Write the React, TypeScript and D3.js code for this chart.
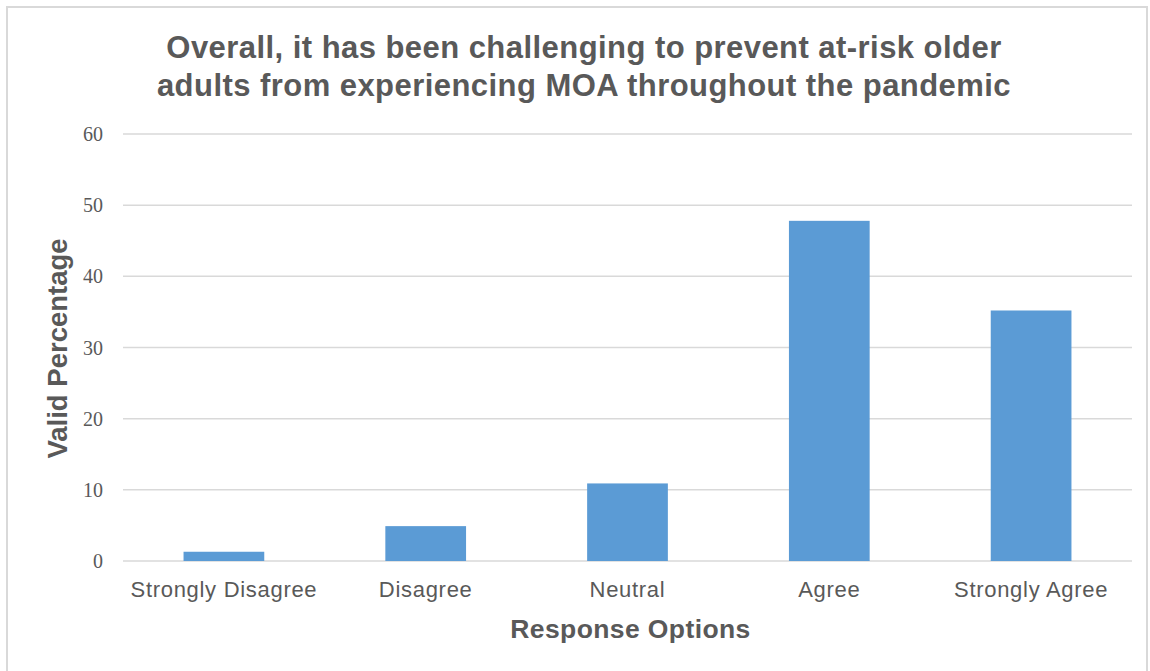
import React from "react";
import * as d3 from "d3";

const categories = ["Strongly Disagree", "Disagree", "Neutral", "Agree", "Strongly Agree"];
const validPercentages = [1.3, 4.9, 10.9, 47.8, 35.2];
const yTicks = [0, 10, 20, 30, 40, 50, 60];
const titleLines = [
  "Overall, it has been challenging to prevent at-risk older",
  "adults from experiencing MOA throughout the pandemic",
];
const xAxisTitle = "Response Options";
const yAxisTitle = "Valid Percentage";

const W = 1150;
const H = 671;
const plot = { left: 123, right: 1132, top: 134, bottom: 561 };
const textColor = "#595959";
const gridColor = "#D9D9D9";
const barColor = "#5B9BD5";
const sans = "Arial, 'Liberation Sans', Helvetica, sans-serif";
const serif = "'Times New Roman', 'Liberation Serif', serif";

export default function App() {
  const x = d3
    .scaleBand<string>()
    .domain(categories)
    .range([plot.left, plot.right])
    .paddingInner(0.6)
    .paddingOuter(0.3);

  const y = d3.scaleLinear().domain([0, 60]).range([plot.bottom, plot.top]);

  const titleCenter = 584;
  const plotCenterX = (plot.left + plot.right) / 2;
  const plotCenterY = (plot.top + plot.bottom) / 2;

  return (
    <svg
      width={W}
      height={H}
      style={{ position: "absolute", left: 0, top: 0, display: "block", background: "#fff" }}
    >
      {/* chart frame */}
      <rect x={7} y={7} width={1140} height={700} fill="#fff" stroke={gridColor} strokeWidth={2} />

      {/* title */}
      {titleLines.map((line, i) => (
        <text
          key={i}
          x={titleCenter}
          y={58 + i * 38}
          textAnchor="middle"
          fontFamily={sans}
          fontWeight="bold"
          fontSize={31}
          letterSpacing={0.45}
          fill={textColor}
        >
          {line}
        </text>
      ))}

      {/* gridlines and y tick labels */}
      {yTicks.map((t) => (
        <g key={t}>
          <line
            x1={plot.left}
            x2={plot.right}
            y1={y(t)}
            y2={y(t)}
            stroke={gridColor}
            strokeWidth={1.5}
          />
          <text
            x={103}
            y={y(t)}
            dy="0.35em"
            textAnchor="end"
            fontFamily={serif}
            fontSize={20}
            fill={textColor}
          >
            {t}
          </text>
        </g>
      ))}

      {/* bars */}
      {categories.map((c, i) => (
        <rect
          key={c}
          x={x(c)}
          y={y(validPercentages[i])}
          width={x.bandwidth()}
          height={y(0) - y(validPercentages[i])}
          fill={barColor}
        />
      ))}

      {/* category labels */}
      {categories.map((c) => (
        <text
          key={c}
          x={(x(c) ?? 0) + x.bandwidth() / 2}
          y={597}
          textAnchor="middle"
          fontFamily={sans}
          fontSize={22}
          letterSpacing={0.7}
          fill={textColor}
        >
          {c}
        </text>
      ))}

      {/* axis titles */}
      <text
        x={plotCenterX + 3}
        y={638}
        textAnchor="middle"
        fontFamily={sans}
        fontWeight="bold"
        fontSize={26.5}
        letterSpacing={0.4}
        fill={textColor}
      >
        {xAxisTitle}
      </text>
      <text
        transform={`translate(67, ${plotCenterY + 1}) rotate(-90)`}
        textAnchor="middle"
        fontFamily={sans}
        fontWeight="bold"
        fontSize={27.5}
        fill={textColor}
      >
        {yAxisTitle}
      </text>
    </svg>
  );
}
